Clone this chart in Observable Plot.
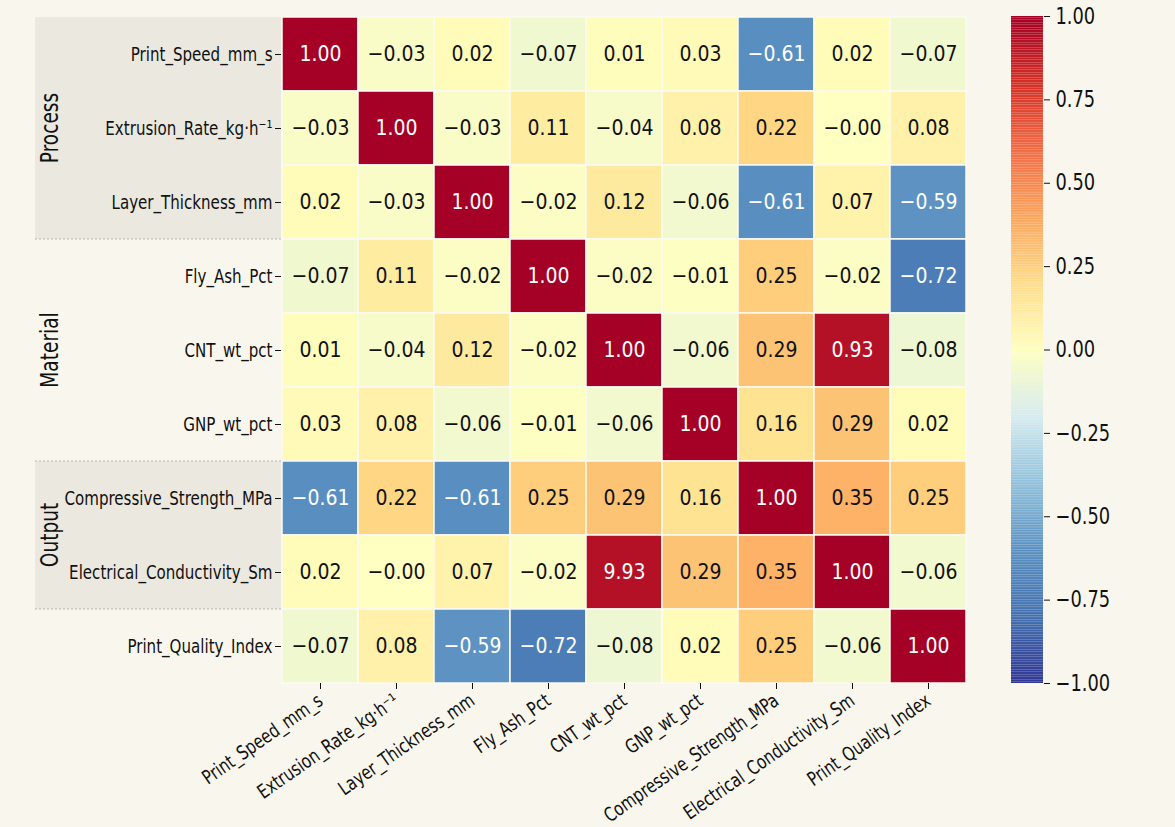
<!DOCTYPE html>
<html>
<head>
<meta charset="utf-8">
<script src="https://cdn.jsdelivr.net/npm/d3@7"></script>
<script src="https://cdn.jsdelivr.net/npm/@observablehq/plot@0.6"></script>
<style>
  html, body { margin: 0; padding: 0; background: #f9f7ed; }
  #wrap { position: relative; width: 1175px; height: 827px; background: #f9f7ed; overflow: hidden; }
  #main, #cbar { position: absolute; top: 0; }
  #main { left: 0; }
  #cbar { left: 1000px; }
</style>
</head>
<body>
<div id="wrap"><div id="main"></div><div id="cbar"></div></div>
<script>
const variables = [
  "Print_Speed_mm_s",
  "Extrusion_Rate_kg·h⁻¹",
  "Layer_Thickness_mm",
  "Fly_Ash_Pct",
  "CNT_wt_pct",
  "GNP_wt_pct",
  "Compressive_Strength_MPa",
  "Electrical_Conductivity_Sm",
  "Print_Quality_Index"
];

const corr_Print_Speed      = [ 1.00, -0.03,  0.02, -0.07,  0.01,  0.03, -0.61,  0.02, -0.07];
const corr_Extrusion_Rate   = [-0.03,  1.00, -0.03,  0.11, -0.04,  0.08,  0.22, -0.004, 0.08];
const corr_Layer_Thickness  = [ 0.02, -0.03,  1.00, -0.02,  0.12, -0.06, -0.61,  0.07, -0.59];
const corr_Fly_Ash          = [-0.07,  0.11, -0.02,  1.00, -0.02, -0.01,  0.25, -0.02, -0.72];
const corr_CNT              = [ 0.01, -0.04,  0.12, -0.02,  1.00, -0.06,  0.29,  0.93, -0.08];
const corr_GNP              = [ 0.03,  0.08, -0.06, -0.01, -0.06,  1.00,  0.16,  0.29,  0.02];
const corr_Compressive      = [-0.61,  0.22, -0.61,  0.25,  0.29,  0.16,  1.00,  0.35,  0.25];
const corr_Electrical       = [ 0.02, -0.004, 0.07, -0.02,  0.93,  0.29,  0.35,  1.00, -0.06];
const corr_Print_Quality    = [-0.07,  0.08, -0.59, -0.72, -0.08,  0.02,  0.25, -0.06,  1.00];

// the reference prints this one cell's annotation as "9.93"
const labelOverrides = [{row: "Electrical_Conductivity_Sm", col: "CNT_wt_pct", text: "9.93"}];

const groups = [
  {label: "Process",  first: "Print_Speed_mm_s",         last: "Layer_Thickness_mm",          shaded: true},
  {label: "Material", first: "Fly_Ash_Pct",              last: "GNP_wt_pct",                  shaded: false},
  {label: "Output",   first: "Compressive_Strength_MPa", last: "Electrical_Conductivity_Sm",  shaded: true}
];

const colorbarTicks = [-1, -0.75, -0.5, -0.25, 0, 0.25, 0.5, 0.75, 1];

// RdYlBu (reversed) colour stops
const colorStops = [-1, -0.8, -0.6, -0.4, -0.2, 0, 0.2, 0.4, 0.6, 0.8, 1];
const colorRange = ["#313695", "#4370b0", "#5a90c2", "#8fc0dc", "#d5ebf0", "#ffffbf",
                    "#fedc88", "#fca45c", "#f26a43", "#d43027", "#a50026"];

const matrix = [corr_Print_Speed, corr_Extrusion_Rate, corr_Layer_Thickness, corr_Fly_Ash,
  corr_CNT, corr_GNP, corr_Compressive, corr_Electrical, corr_Print_Quality];

const fmt = v => (v < 0 ? "\u2212" : "") + Math.abs(v).toFixed(2);

const cells = [];
matrix.forEach((rowVals, i) => rowVals.forEach((v, j) => {
  const o = labelOverrides.find(d => d.row === variables[i] && d.col === variables[j]);
  cells.push({row: variables[i], col: variables[j], value: v, label: o ? o.text : fmt(v)});
}));

const FONT = '"DejaVu Sans Condensed", "DejaVu Sans", sans-serif';
const colorScale = {type: "linear", domain: colorStops, range: colorRange, interpolate: "rgb"};

function groupBands(index, scales, values, dimensions) {
  const y = scales.y;
  const bw = y.bandwidth();
  const g = d3.create("svg:g");
  const left = 35, right = dimensions.marginLeft;
  for (const grp of groups) {
    const y0 = y(grp.first), y1 = y(grp.last) + bw;
    if (grp.shaded) {
      g.append("rect").attr("x", left).attr("y", y0).attr("width", right - left).attr("height", y1 - y0)
        .attr("fill", "#ebe8df");
      const edges = grp.first === variables[0] ? [y1] : [y0, y1];
      for (const e of edges) {
        g.append("line").attr("x1", left).attr("x2", right).attr("y1", e).attr("y2", e)
          .attr("stroke", "#b9b6ad").attr("stroke-width", 1).attr("stroke-dasharray", "2,2");
      }
    }
    g.append("text")
      .attr("class", "grp")
      .attr("transform", `translate(${left + 15},${(y0 + y1) / 2}) rotate(-90)`)
      .attr("text-anchor", "middle").attr("dy", "0.35em")
      .attr("font-size", 24).attr("fill", "#111")
      .text(grp.label);
  }
  return g.node();
}

const main = Plot.plot({
  width: 1000, height: 827,
  marginLeft: 281, marginRight: 33, marginTop: 16, marginBottom: 144,
  style: {background: "transparent", fontFamily: FONT, fontSize: "19.5px", color: "#111"},
  x: {domain: variables, padding: 0, label: null},
  y: {domain: variables, padding: 0, label: null},
  color: colorScale,
  marks: [
    groupBands,
    Plot.cell(cells, {x: "col", y: "row", fill: "value", inset: 0, stroke: "#fbfaf3", strokeWidth: 1.5}),
    Plot.text(cells.filter(d => Math.abs(d.value) <= 0.5), {x: "col", y: "row", text: "label", fill: "#111", fontSize: 21}),
    Plot.text(cells.filter(d => Math.abs(d.value) > 0.5), {x: "col", y: "row", text: "label", fill: "#fff", fontSize: 21}),
    Plot.axisX({tickRotate: -35, tickSize: 6, tickPadding: 9, label: null, fontSize: 19.5}),
    Plot.axisY({tickSize: 6, tickPadding: 3, label: null, fontSize: 19.5})
  ]
});
document.getElementById("main").appendChild(main);

const step = 0.005;
const stops = d3.range(-1, 1, step);
const cbar = Plot.plot({
  width: 175, height: 827,
  marginLeft: 11, marginRight: 132, marginTop: 16, marginBottom: 144,
  style: {background: "transparent", fontFamily: FONT, fontSize: "22.5px", color: "#111"},
  x: {domain: [0, 1], axis: null},
  y: {domain: [-1, 1], label: null},
  color: colorScale,
  marks: [
    Plot.rect(stops, {x1: 0, x2: 1, y1: d => d, y2: d => Math.min(1, d + step * 1.02), fill: d => d + step / 2}),
    Plot.axisY({anchor: "right", ticks: colorbarTicks, tickFormat: fmt, tickSize: 6, tickPadding: 6, label: null, fontSize: 22.5})
  ]
});
document.getElementById("cbar").appendChild(cbar);

// narrow the glyphs (about the text's own anchor) to mimic the condensed face of the reference
function condense(svg, factor, test) {
  svg.querySelectorAll("text").forEach(el => {
    if (!test(el)) return;
    const xa = el.getAttribute("x");
    const x = xa !== null && /^-?[\d.]+$/.test(xa.trim()) ? +xa : 0;
    const t = el.getAttribute("transform") || "";
    const extra = x ? `translate(${x},0) scale(${factor},1) translate(${-x},0)` : `scale(${factor},1)`;
    el.setAttribute("transform", `${t} ${extra}`.trim());
  });
}
const isNumber = el => /^[\u2212\-]?\d/.test(el.textContent.trim());
condense(main, 0.86, el => !isNumber(el));
condense(cbar, 0.88, () => true);
</script>
</body>
</html>
